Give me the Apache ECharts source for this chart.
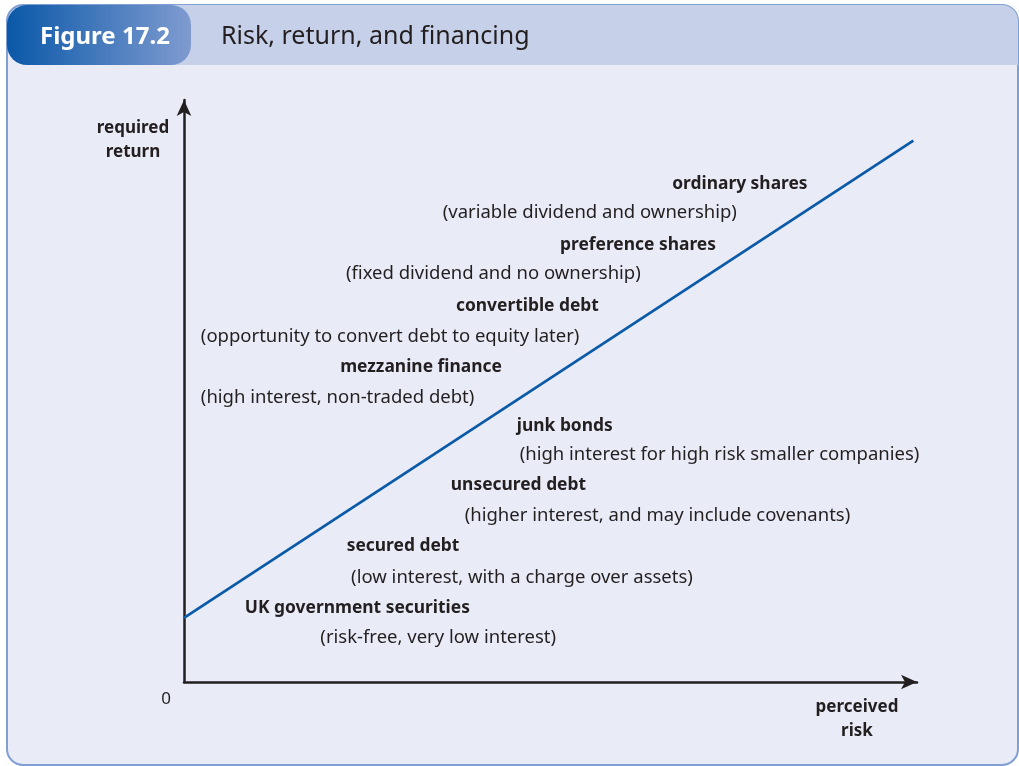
<!DOCTYPE html>
<html>
<head>
<meta charset="utf-8">
<script src="https://cdn.jsdelivr.net/npm/echarts@6/dist/echarts.min.js"></script>
<style>
  html, body { margin: 0; padding: 0; background: #fff; }
  #chart { width: 1019px; height: 766px; }
</style>
</head>
<body>
<div id="chart"></div>
<script>
// risk / return line (x = perceived risk, y = required return)
const lineRisk = [0, 99.5]
const lineReturn = [11, 93]

// financing labels: text, x, y (left edge, vertical middle)
const labelText = [
  'ordinary shares', '(variable dividend and ownership)',
  'preference shares', '(fixed dividend and no ownership)',
  'convertible debt', '(opportunity to convert debt to equity later)',
  'mezzanine finance', '(high interest, non-traded debt)',
  'junk bonds', '(high interest for high risk smaller companies)',
  'unsecured debt', '(higher interest, and may include covenants)',
  'secured debt', '(low interest, with a charge over assets)',
  'UK government securities', '(risk-free, very low interest)'
]
const labelRisk = [66.6, 35.3, 51.3, 22.1, 37.1, 2.3, 21.3, 2.3, 45.4, 45.8, 36.4, 38.3, 22.2, 22.8, 8.3, 18.6]
const labelReturn = [85.6, 80.6, 75.1, 70.1, 64.6, 59.3, 54.1, 48.8, 44.0, 39.0, 33.9, 28.5, 23.4, 18.0, 12.7, 7.6]

const chart = echarts.init(document.getElementById('chart'))
const ink = '#231f20'
const font = '"Noto Sans", "Open Sans", sans-serif'

chart.setOption({
  animation: false,
  textStyle: { fontFamily: font },
  grid: { left: 184, right: 102, top: 100, bottom: 84 },
  xAxis: {
    type: 'value', min: 0, max: 100, interval: 100,
    splitLine: { show: false },
    axisTick: { show: false },
    axisLine: { lineStyle: { color: ink, width: 2.5 }, symbol: ['none', 'arrow'], symbolSize: [11, 16] },
    axisLabel: {
      color: ink, fontSize: 17, margin: 9, padding: [0, 36, 0, 0],
      formatter: (v) => (v === 0 ? '0' : '')
    }
  },
  yAxis: {
    type: 'value', min: 0, max: 100,
    splitLine: { show: false },
    axisTick: { show: false },
    axisLabel: { show: false },
    axisLine: { lineStyle: { color: ink, width: 2.5 }, symbol: ['none', 'arrow'], symbolSize: [11, 16] }
  },
  graphic: [
    { type: 'rect', z: -10, shape: { x: 7, y: 5, width: 1011, height: 760, r: 16 },
      style: { fill: '#e9ebf7', stroke: '#809fd3', lineWidth: 2 } },
    { type: 'rect', z: -9, shape: { x: 150, y: 5, width: 868, height: 60, r: [0, 16, 0, 0] },
      style: { fill: '#c6d0e8' } },
    { type: 'rect', z: -8, shape: { x: 7, y: 5, width: 184, height: 60, r: 20 },
      style: { fill: new echarts.graphic.LinearGradient(0, 0, 1, 0, [
        { offset: 0, color: '#0a58a8' }, { offset: 1, color: '#7f9bd0' }]) } },
    { type: 'text', z: 5, x: 40, y: 37,
      style: { text: 'Figure 17.2', fill: '#fff', font: 'bold 24px ' + font, verticalAlign: 'middle' } },
    { type: 'text', z: 5, x: 221, y: 37,
      style: { text: 'Risk, return, and financing', fill: ink, font: '25px ' + font, verticalAlign: 'middle' } },
    { type: 'text', z: 5, x: 133, y: 140,
      style: { text: 'required\nreturn', fill: ink, font: 'bold 17px ' + font, align: 'center', verticalAlign: 'middle', lineHeight: 24 } },
    { type: 'text', z: 5, x: 857, y: 719,
      style: { text: 'perceived\nrisk', fill: ink, font: 'bold 17px ' + font, align: 'center', verticalAlign: 'middle', lineHeight: 24 } }
  ],
  series: [
    {
      type: 'line',
      data: lineRisk.map((x, i) => [x, lineReturn[i]]),
      symbol: 'none',
      lineStyle: { color: '#0a5aa8', width: 2.7 },
      z: 3
    },
    {
      type: 'scatter',
      symbolSize: 0,
      silent: true,
      itemStyle: { opacity: 1 },
      data: labelText.map((t, i) => {
        const note = t.startsWith('(')
        return {
          value: [labelRisk[i], labelReturn[i]],
          name: t,
          label: { fontWeight: note ? 'normal' : 'bold', fontSize: note ? 18.5 : 17.4 }
        }
      }),
      label: {
        show: true,
        position: [0, 0],
        align: 'left',
        verticalAlign: 'middle',
        color: ink,
        opacity: 1,
        formatter: (p) => p.name
      },
      z: 4
    }
  ]
})
</script>
</body>
</html>
